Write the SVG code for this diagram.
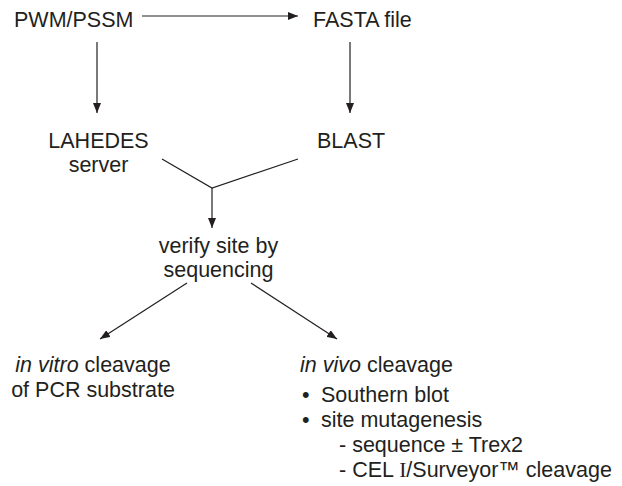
<svg xmlns="http://www.w3.org/2000/svg" width="622" height="486" viewBox="0 0 622 486">
<defs>
<marker id="ah" viewBox="0 0 10 8" refX="10" refY="4" markerWidth="10" markerHeight="8" markerUnits="userSpaceOnUse" orient="auto">
<path d="M0,0 L10,4 L0,8 Z" fill="#231f20"/>
</marker>
<style>
text{font-family:"Liberation Sans",Arial,sans-serif;font-size:21.5px;fill:#231f20}
.c{text-anchor:middle}
.e{stroke:#231f20;stroke-width:1.2;fill:none}
.a{marker-end:url(#ah)}
.s{font-family:"Liberation Serif","Times New Roman",serif}
</style>
</defs>
<rect width="622" height="486" fill="#fff"/>
<g id="connectors">
<line class="e a" x1="142" y1="16" x2="298" y2="16"/>
<line class="e a" x1="97" y1="42" x2="97" y2="113"/>
<line class="e a" x1="350" y1="42" x2="350" y2="113"/>
<polyline class="e" points="162,159 212,188 298,159"/>
<line class="e a" x1="212" y1="188" x2="212" y2="228"/>
<line class="e a" x1="187" y1="283" x2="100" y2="339"/>
<line class="e a" x1="251" y1="283" x2="337" y2="339"/>
</g>
<g id="pwm"><text x="14" y="27">PWM/PSSM</text></g>
<g id="fasta"><text x="313" y="27">FASTA file</text></g>
<g id="lahedes"><text class="c" x="98.5" y="148">LAHEDES</text><text class="c" x="98.5" y="172">server</text></g>
<g id="blast"><text x="317" y="148">BLAST</text></g>
<g id="verify"><text class="c" x="218.5" y="253">verify site by</text><text class="c" x="218.5" y="277">sequencing</text></g>
<g id="invitro"><text class="c" x="93" y="372"><tspan font-style="italic">in vitro</tspan> cleavage</text><text class="c" x="93" y="397">of PCR substrate</text></g>
<g id="invivo">
<text x="300" y="372"><tspan font-style="italic">in vivo</tspan> cleavage</text>
<text x="302" y="402">•</text><text x="321" y="402">Southern blot</text>
<text x="302" y="427">•</text><text x="321" y="427">site mutagenesis</text>
<text x="339" y="452">- sequence ± Trex2</text>
<text x="339" y="477">- CEL <tspan class="s">I</tspan>/Surveyor™ cleavage</text>
</g>
</svg>
